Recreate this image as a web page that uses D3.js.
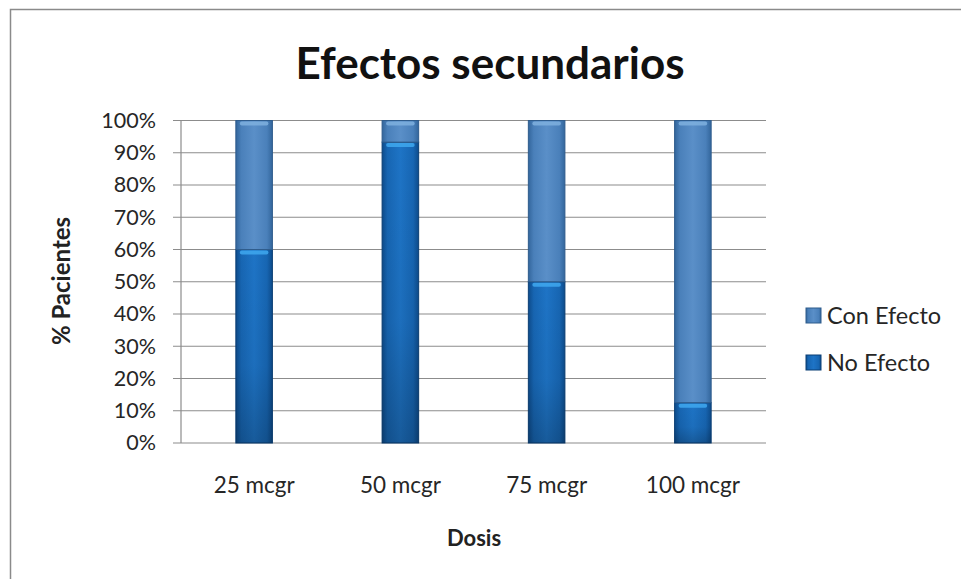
<!DOCTYPE html>
<html><head><meta charset="utf-8">
<script src="https://cdn.jsdelivr.net/npm/d3@7"></script>
<style>html,body{margin:0;padding:0;background:#fff;} svg{display:block;}</style>
</head><body>
<svg id="chart" width="961" height="579"></svg>
<script>
const categories = ["25 mcgr", "50 mcgr", "75 mcgr", "100 mcgr"];
const seriesNames = ["No Efecto", "Con Efecto"];
const noEfecto = [60, 93.3, 50, 12.5];
const conEfecto = [40, 6.7, 50, 87.5];
const yTicks = [0, 10, 20, 30, 40, 50, 60, 70, 80, 90, 100];
const titleText = "Efectos secundarios";
const xTitle = "Dosis";
const yTitle = "% Pacientes";

const svg = d3.select("#chart");
const font = "Lato, 'Open Sans', sans-serif";
const m = {left: 181, right: 766, top: 120.5, bottom: 443};

// frame
svg.append("rect").attr("x", 10.5).attr("y", 9.5).attr("width", 980).attr("height", 600)
  .attr("fill", "#fff").attr("stroke", "#8a8a8a").attr("stroke-width", 1.5);

const defs = svg.append("defs");
function grad(id, stops) {
  const g = defs.append("linearGradient").attr("id", id).attr("x1", "0").attr("x2", "1").attr("y1", "0").attr("y2", "0");
  stops.forEach(s => g.append("stop").attr("offset", s[0]).attr("stop-color", s[1]));
}
grad("gNo", [[0, "#0d4c8c"], [0.15, "#1766b3"], [0.5, "#1e74c6"], [0.85, "#1766b3"], [1, "#0d4c8c"]]);
grad("gCon", [[0, "#33669c"], [0.15, "#4a80ba"], [0.5, "#5a8fc8"], [0.85, "#4a80ba"], [1, "#33669c"]]);
const vShade = defs.append("linearGradient").attr("id", "vShade").attr("x1", 0).attr("x2", 0).attr("y1", 0).attr("y2", 1);
vShade.append("stop").attr("offset", 0).attr("stop-color", "#000").attr("stop-opacity", 0);
vShade.append("stop").attr("offset", 0.6).attr("stop-color", "#000").attr("stop-opacity", 0.05);
vShade.append("stop").attr("offset", 1).attr("stop-color", "#000").attr("stop-opacity", 0.22);

const x = d3.scaleBand().domain(categories).range([m.left, m.right]).paddingInner(0.75).paddingOuter(0.375);
const y = d3.scaleLinear().domain([0, 100]).range([m.bottom, m.top]);

// gridlines
svg.append("g").selectAll("line").data(yTicks).join("line")
  .attr("x1", m.left - 8).attr("x2", m.right)
  .attr("y1", d => y(d)).attr("y2", d => y(d))
  .attr("stroke", "#8c8c8c").attr("stroke-width", 1.2);
// y axis line
svg.append("line").attr("x1", m.left).attr("x2", m.left).attr("y1", m.top).attr("y2", m.bottom)
  .attr("stroke", "#8c8c8c").attr("stroke-width", 1.2);

const yAxis = d3.axisLeft(y).tickValues(yTicks).tickFormat(d => d + "%").tickSize(0).tickPadding(25);
const ga = svg.append("g").attr("transform", `translate(${m.left},0)`).call(yAxis);
ga.select(".domain").remove();
ga.selectAll("text").attr("font-family", font).attr("font-size", 21.5).attr("fill", "#262626");

const xAxis = d3.axisBottom(x).tickSize(0).tickPadding(34);
const gx = svg.append("g").attr("transform", `translate(0,${m.bottom})`).call(xAxis);
gx.select(".domain").remove();
gx.selectAll("text").attr("font-family", font).attr("font-size", 22.5).attr("fill", "#262626");

const stack = d3.stack().keys(["no", "con"]);
const rows = categories.map((c, i) => ({cat: c, no: noEfecto[i], con: conEfecto[i]}));
const layers = stack(rows);
const fills = {no: "url(#gNo)", con: "url(#gCon)"};
const edge = {no: "#0b3f75", con: "#2f5c8c"};
const tops = {no: "#3fa8ee", con: "#7fb0de"};

layers.forEach(layer => {
  const g = svg.append("g");
  g.selectAll("rect.bar").data(layer).join("rect").attr("class", "bar")
    .attr("x", d => x(d.data.cat)).attr("width", x.bandwidth())
    .attr("y", d => y(d[1])).attr("height", d => y(d[0]) - y(d[1]))
    .attr("fill", fills[layer.key]).attr("stroke", edge[layer.key]).attr("stroke-width", 1);
  if (layer.key === "no") {
    g.selectAll("rect.sh").data(layer).join("rect").attr("class", "sh")
      .attr("x", d => x(d.data.cat)).attr("width", x.bandwidth())
      .attr("y", d => y(d[1])).attr("height", d => y(d[0]) - y(d[1]))
      .attr("fill", "url(#vShade)");
  }
  g.selectAll("rect.hl").data(layer).join("rect").attr("class", "hl")
    .attr("x", d => x(d.data.cat) + 4).attr("width", x.bandwidth() - 8)
    .attr("y", d => y(d[1]) + 1).attr("height", 4).attr("rx", 2)
    .attr("fill", tops[layer.key]).attr("opacity", 0.85);
});

// titles
svg.append("text").attr("x", 490).attr("y", 79).attr("text-anchor", "middle")
  .attr("font-family", font).attr("font-weight", "bold").attr("font-size", 44).attr("fill", "#111")
  .text(titleText);
svg.append("text").attr("x", 474).attr("y", 546).attr("text-anchor", "middle")
  .attr("font-family", font).attr("font-weight", "bold").attr("font-size", 22).attr("fill", "#222")
  .text(xTitle);
svg.append("text").attr("transform", "translate(70,281) rotate(-90)").attr("text-anchor", "middle")
  .attr("font-family", font).attr("font-weight", "bold").attr("font-size", 24).attr("fill", "#222")
  .text(yTitle);

// legend
const legend = [
  {name: seriesNames[1], fill: "url(#gCon)", stroke: edge.con, y: 315},
  {name: seriesNames[0], fill: "url(#gNo)", stroke: edge.no, y: 362}
];
const lg = svg.append("g").selectAll("g").data(legend).join("g")
  .attr("transform", d => `translate(806,${d.y})`);
lg.append("rect").attr("x", 0).attr("y", -7).attr("width", 15).attr("height", 15)
  .attr("fill", d => d.fill).attr("stroke", d => d.stroke);
lg.append("text").attr("x", 21).attr("y", 1).attr("dy", "0.35em")
  .attr("font-family", font).attr("font-size", 23.5).attr("fill", "#262626").text(d => d.name);
</script>
</body></html>
